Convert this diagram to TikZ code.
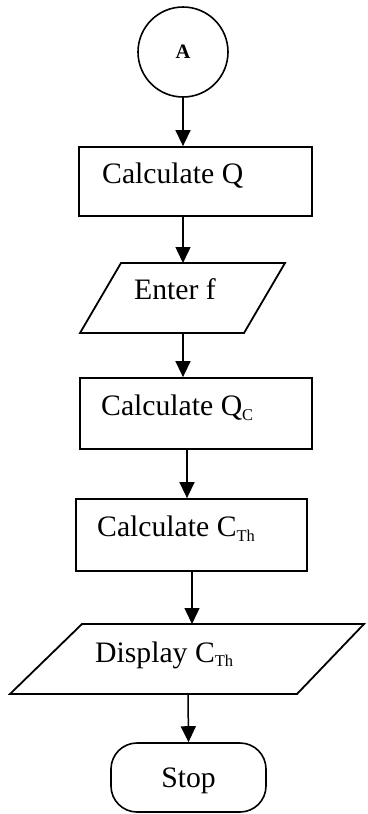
\documentclass[tikz,border=0pt]{standalone}
\usepackage{fontspec}
\setmainfont{Liberation Serif}
\usetikzlibrary{arrows.meta}
\newcommand{\lowsub}[1]{\raisebox{-4.5pt}{\fontsize{16.5}{16.5}\selectfont #1}}
\begin{document}
\begin{tikzpicture}[x=1pt,y=-1pt,
  shapebox/.style={draw, line width=1.8pt, rectangle, inner sep=0pt},
  pgram/.style={draw, line width=1.8pt, line join=miter},
  conn/.style={line width=1.5pt, -{Triangle[length=16pt,width=15pt]}},
  lbl/.style={inner sep=0pt, anchor=base west, font=\fontsize{29.7}{30}\selectfont}]
\useasboundingbox (0,0) rectangle (367,814);
% connector A
\node[draw, circle, line width=1.6pt, minimum size=90pt, inner sep=0pt,
      font=\fontsize{20.5}{20.5}\selectfont\bfseries] (A) at (183,52) {A};
% Calculate Q
\node[shapebox, minimum width=233pt, minimum height=69pt] (b1) at (195.5,181.5) {};
\node[lbl] (t1) at (102,183) {Calculate Q};
% Enter f
\draw[pgram] (121,263) -- (285,263) -- (244,333) -- (80,333) -- cycle;
\coordinate (p1t) at (183,263);
\coordinate (p1b) at (183,333);
\node[lbl] (t2) at (134,299.5) {Enter f};
% Calculate Qc
\node[shapebox, minimum width=232pt, minimum height=71pt] (b3) at (196,413.5) {};
\node[lbl] (t3) at (101,415.7) {Calculate Q\lowsub{C}};
% Calculate CTh
\node[shapebox, minimum width=231pt, minimum height=72pt] (b4) at (191.5,535) {};
\node[lbl] (t4) at (97,536.7) {Calculate C\lowsub{Th}};
% Display CTh
\draw[pgram] (82,624) -- (364,624) -- (297,694) -- (10,694) -- cycle;
\coordinate (p2t) at (192,624);
\coordinate (p2b) at (188,694);
\node[lbl] (t5) at (95,662) {Display C\lowsub{Th}};
% Stop
\node[draw, line width=1.6pt, rounded corners=26pt, minimum width=155pt,
      minimum height=69pt, inner sep=0pt] (S) at (188.5,777.5) {};
\node[inner sep=0pt, anchor=base, font=\fontsize{29.7}{30}\selectfont] (t6) at (188.5,787) {Stop};
% connectors
\draw[conn] (A.south) -- (A.south |- b1.north);
\draw[conn] (b1.south -| p1t) -- (p1t);
\draw[conn] (p1b) -- (p1b |- b3.north);
\draw[conn] ([xshift=-9pt]b3.south) -- ([xshift=-9pt]b3.south |- b4.north);
\draw[conn] (b4.south -| p2t) -- (p2t);
\draw[conn] (p2b) -- (S.north);
\end{tikzpicture}
\end{document}
